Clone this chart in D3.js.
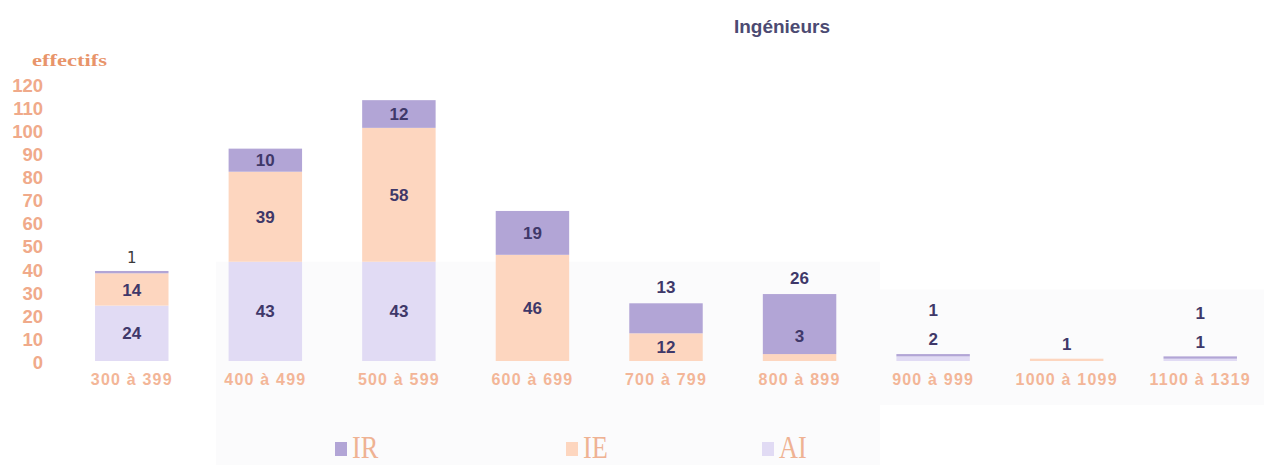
<!DOCTYPE html>
<html>
<head>
<meta charset="utf-8">
<script src="https://cdn.jsdelivr.net/npm/d3@7"></script>
<style>
  html, body { margin: 0; padding: 0; background: #ffffff; }
  svg { display: block; }
</style>
</head>
<body>
<svg id="chart" width="1264" height="465"></svg>
<script>
// Salary bands (effectifs par tranche) for engineers, stacked by corps
const categories = ["300 à 399", "400 à 499", "500 à 599", "600 à 699", "700 à 799",
                    "800 à 899", "900 à 999", "1000 à 1099", "1100 à 1319"];
const seriesNames = ["AI", "IE", "IR"];          // stacking order, bottom to top
const valuesAI = [24, 43, 43, 0, 0, 0, 2, 0, 1];
const valuesIE = [14, 39, 58, 46, 12, 3, 0, 1, 0];
const valuesIR = [1, 10, 12, 19, 13, 26, 1, 0, 1];
const yTicks = [0, 10, 20, 30, 40, 50, 60, 70, 80, 90, 100, 110, 120];
const legendOrder = ["IR", "IE", "AI"];

// How the value labels of each column are laid out
const labelLayout = ["stacked", "inside", "inside", "inside", "topOut",
                     "topOut", "stacked", "stacked", "stacked"];

const colors = { AI: "#e1dbf4", IE: "#fdd6bf", IR: "#b2a5d6" };
const labelColor = "#3f3869";
const axisColor = "#f0aa8a";

const svg = d3.select("#chart");

const rows = categories.map((c, i) => ({
  cat: c, AI: valuesAI[i], IE: valuesIE[i], IR: valuesIR[i]
}));

const x = d3.scaleBand()
  .domain(categories)
  .range([65, 1267])
  .paddingInner(0.45)
  .paddingOuter(0.225);

const y = d3.scaleLinear().domain([0, 120]).range([361, 84]);

// faint tinted panels behind the lower part of the plot
svg.append("rect").attr("x", 216).attr("y", y(43)).attr("width", 664)
  .attr("height", 465 - y(43)).attr("fill", "#fbfbfc");
svg.append("rect").attr("x", 880).attr("y", y(31)).attr("width", 384)
  .attr("height", 405 - y(31)).attr("fill", "#fbfbfc");

// title
svg.append("text")
  .attr("x", 830).attr("y", 33)
  .attr("text-anchor", "end")
  .attr("font-family", "Liberation Sans, Arial, sans-serif")
  .attr("font-weight", "bold").attr("font-size", 19)
  .attr("fill", "#4c4a72")
  .text("Ingénieurs");

// y axis title
svg.append("text")
  .attr("x", 32).attr("y", 66)
  .attr("font-family", "Liberation Serif, Times New Roman, serif")
  .attr("font-weight", "bold").attr("font-size", 17)
  .attr("textLength", 75).attr("lengthAdjust", "spacingAndGlyphs")
  .attr("fill", "#e8946a")
  .text("effectifs");

// y axis (labels only)
const yAxis = svg.append("g")
  .attr("transform", "translate(43,0)")
  .call(d3.axisLeft(y).tickValues(yTicks).tickSize(0).tickPadding(0));
yAxis.select(".domain").remove();
yAxis.selectAll("text")
  .attr("dy", "0.4em")
  .attr("font-family", "Liberation Sans, Arial, sans-serif")
  .attr("font-weight", "bold").attr("font-size", 18.5)
  .attr("fill", axisColor);

// x axis (labels only)
const xAxis = svg.append("g")
  .attr("transform", `translate(0,${y(0)})`)
  .call(d3.axisBottom(x).tickSize(0).tickPadding(13));
xAxis.select(".domain").remove();
xAxis.selectAll("text")
  .attr("font-family", "Liberation Sans, Arial, sans-serif")
  .attr("font-weight", "bold")
  .attr("font-size", 16)
  .attr("letter-spacing", "1.2px")
  .attr("fill", "#f3b698");

// stacked columns
const stack = d3.stack().keys(seriesNames)(rows);

svg.append("g").selectAll("g")
  .data(stack)
  .join("g")
  .attr("fill", d => colors[d.key])
  .selectAll("rect")
  .data(d => d.filter(s => s[1] - s[0] > 0))
  .join("rect")
  .attr("x", d => x(d.data.cat))
  .attr("width", x.bandwidth())
  .attr("y", d => y(d[1]))
  .attr("height", d => Math.max(1.5, y(d[0]) - y(d[1])));

// value labels
const labels = [];
rows.forEach((r, i) => {
  const total = r.AI + r.IE + r.IR;
  const top = y(total);
  const cx = x(r.cat) + x.bandwidth() / 2;
  const segs = [];
  let base = 0;
  seriesNames.forEach(k => {
    if (r[k] > 0) segs.push({ key: k, v: r[k], y0: base, y1: base + r[k] });
    base += r[k];
  });
  const mode = labelLayout[i];
  if (mode === "stacked") {
    // small columns: labels piled above the column, bottom series first
    segs.forEach((s, j) => {
      const thin = s.v < 5 && total > 10;
      if (thin) {
        labels.push({ x: cx, y: top - 13, v: s.v, thin: true });
      } else if (total > 10) {
        labels.push({ x: cx, y: (y(s.y0) + y(s.y1)) / 2, v: s.v });
      } else {
        labels.push({ x: cx, y: top - 15 - j * 29, v: s.v });
      }
    });
  } else if (mode === "topOut") {
    segs.forEach((s, j) => {
      if (j === segs.length - 1) {
        labels.push({ x: cx, y: top - 16, v: s.v });
      } else if (y(s.y0) - y(s.y1) < 16) {
        labels.push({ x: cx, y: (y(0) + top) / 2 + 8, v: s.v });
      } else {
        labels.push({ x: cx, y: (y(s.y0) + y(s.y1)) / 2, v: s.v });
      }
    });
  } else {
    segs.forEach(s => {
      labels.push({ x: cx, y: (y(s.y0) + y(s.y1)) / 2, v: s.v });
    });
  }
});

svg.append("g").selectAll("text")
  .data(labels)
  .join("text")
  .attr("x", d => d.x)
  .attr("y", d => d.y)
  .attr("dy", "0.36em")
  .attr("text-anchor", "middle")
  .attr("font-family", d => d.thin ? "DejaVu Sans, sans-serif" : "Liberation Sans, Arial, sans-serif")
  .attr("font-weight", d => d.thin ? "normal" : "bold")
  .attr("font-size", d => d.thin ? 15 : 17)
  .attr("fill", d => d.thin ? "#3a3a3a" : labelColor)
  .text(d => d.v);

// legend
const legendX = { IR: 335, IE: 566, AI: 762 };
const legend = svg.append("g").selectAll("g")
  .data(legendOrder)
  .join("g")
  .attr("transform", d => `translate(${legendX[d]},442)`);
legend.append("rect")
  .attr("width", 12).attr("height", 14)
  .attr("fill", d => colors[d]);
legend.append("text")
  .attr("transform", "translate(17,16) scale(0.85,1)")
  .attr("font-family", "Liberation Serif, Times New Roman, serif")
  .attr("font-size", 31)
  .attr("fill", "#efb293")
  .text(d => d);
</script>
</body>
</html>
